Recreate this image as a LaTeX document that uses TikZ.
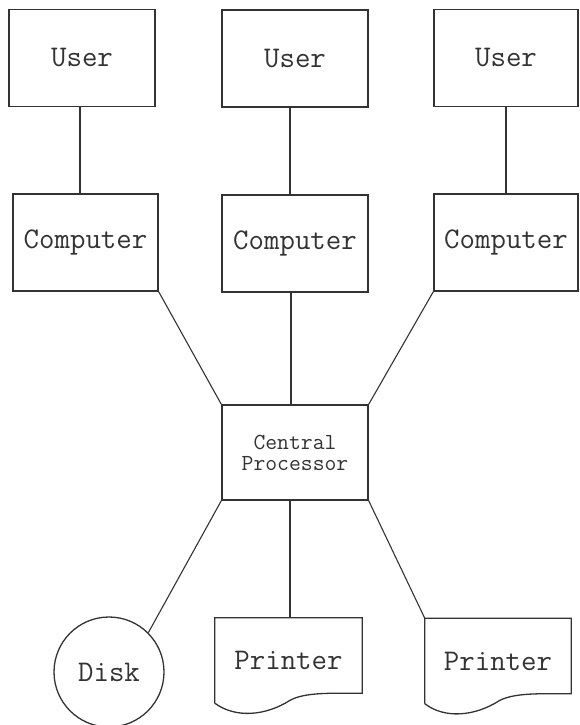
\documentclass[tikz,border=0pt]{standalone}
\usetikzlibrary{positioning, calc}

\begin{document}
\begin{tikzpicture}[
    x=1pt, y=-1pt,
    color=black!80,
    box/.style={rectangle, draw, line width=1.4pt, inner sep=0pt, minimum width=146pt, minimum height=97pt, align=center, font=\fontsize{30}{32}\selectfont\ttfamily},
    disk/.style={circle, draw, line width=1.3pt, inner sep=0pt, minimum size=110pt, font=\fontsize{30}{32}\selectfont\ttfamily},
    printer/.style={rectangle, inner sep=0pt, minimum width=147pt, minimum height=85pt, font=\fontsize{30}{32}\selectfont\ttfamily},
    link/.style={line width=1.1pt}
]
\useasboundingbox (0,0) rectangle (580,725);

% Top row - users
\node[box] (user1) at (82,58) {User};
\node[box] (user2) at (295,58.5) {User};
\node[box, minimum width=144pt] (user3) at (506,58) {User};

% Middle row - computers
\node[box, minimum width=145pt] (comp1) at (85.5,242.5) {Computer};
\node[box] (comp2) at (295,243.5) {Computer};
\node[box, minimum width=144pt] (comp3) at (506,242.5) {Computer};

% Centre
\node[box, minimum height=95pt, font=\fontsize{23}{21}\selectfont\ttfamily] (cpu) at (295,452.5) {Central\\Processor};

% Bottom row - devices
\node[disk] (disk) at (109,672) {Disk};
\node[printer] (prn1) at (288.5,660.5) {Printer};
\node[printer, minimum width=146pt] (prn2) at (498,661) {Printer};

% Printer outlines
\foreach \p in {prn1,prn2}
  \draw[line width=1.3pt] (\p.south west) -- (\p.north west) -- (\p.north east) -- ($(\p.south east)+(0,-10)$)
    .. controls ($(\p.south east)+(-32,-10)$) and ($(\p.south east)+(-57,-11)$) .. ($(\p.south east)+(-72,-3)$)
    .. controls ($(\p.south east)+(-97,13)$) and ($(\p.south east)+(-127,15)$) .. (\p.south west);

% Links
\draw[link] (user1.south -| 80,0) -- (comp1.north -| 80,0);
\draw[link] (user2.south -| 290,0) -- (comp2.north -| 290,0);
\draw[link] (user3.south) -- (comp3.north);
\draw[link] (comp1.south east) -- (cpu.north west);
\draw[link] (comp2.south -| 291,0) -- (cpu.north -| 291,0);
\draw[link] (comp3.south west) -- (cpu.north east);
\draw[link] (cpu.south west) -- (disk.45);
\draw[link] (cpu.south -| 290,0) -- (prn1.north -| 290,0);
\draw[link] (cpu.south east) -- (prn2.north west);

\end{tikzpicture}
\end{document}
